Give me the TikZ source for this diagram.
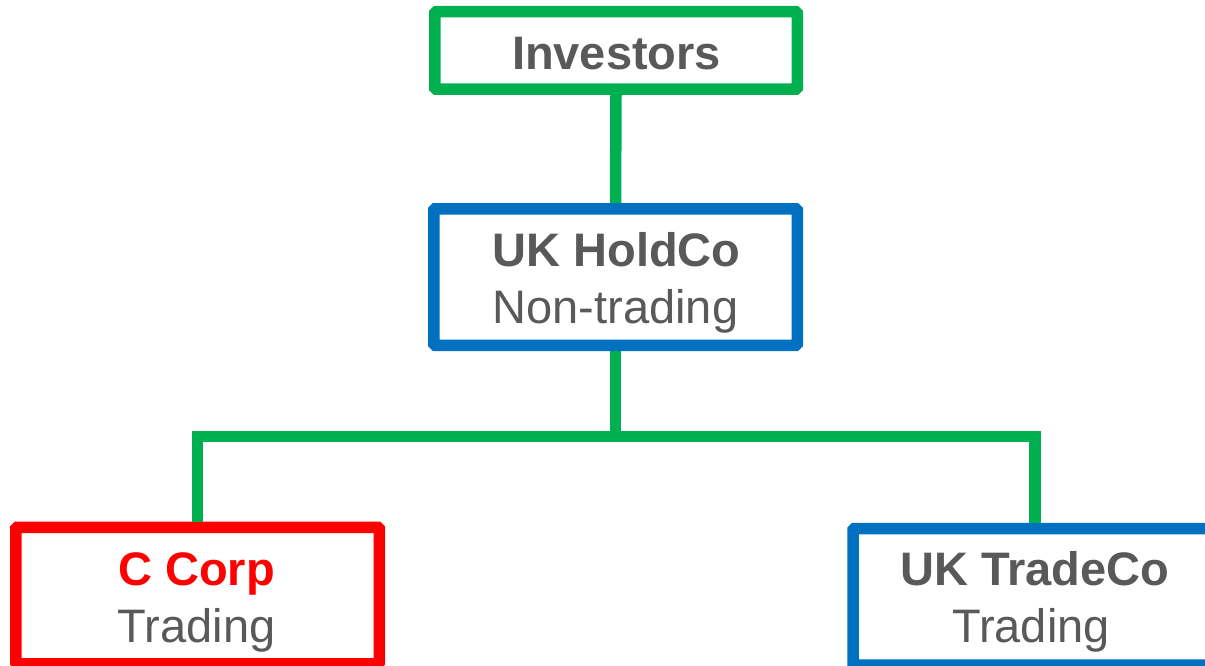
\documentclass[tikz,border=0pt]{standalone}
\usepackage{fontspec}
\setmainfont{Liberation Sans}
\definecolor{grn}{HTML}{00B050}
\definecolor{blu}{HTML}{0070C0}
\definecolor{rd}{HTML}{FF0000}
\definecolor{txtgray}{HTML}{595959}
\begin{document}
\begin{tikzpicture}[x=1pt,y=-1pt,
  box/.style={draw, line width=11.5pt, rounded corners=1.5pt, inner sep=0pt, fill=white},
  link/.style={draw=grn, line width=11.5pt},
  boldtxt/.style={font=\fontsize{47}{57}\selectfont\bfseries, text=txtgray, inner sep=0pt, anchor=base},
  plaintxt/.style={font=\fontsize{47}{57}\selectfont, text=txtgray, inner sep=0pt, anchor=base}]
\useasboundingbox (0,0) rectangle (1205,666);
\clip (0,0) rectangle (1205,666);
% boxes
\node[box, draw=grn, minimum width=362.5pt, minimum height=77.5pt] (inv) at (616,50.5) {};
\node[box, draw=blu, minimum width=363.5pt, minimum height=136.5pt] (hold) at (615.5,277) {};
\node[box, draw=rd, minimum width=363.5pt, minimum height=136.5pt] (ccorp) at (197.5,595.6) {};
\node[box, draw=blu, minimum width=363.5pt, minimum height=136.5pt] (trade) at (1034.8,596.8) {};
% connectors
\coordinate (j) at (615.5,436.5);
\draw[link] (inv.south) -- (hold.north);
\draw[link] (hold.south) -- (j);
\draw[link] (ccorp.north) |- (j) -| (trade.north);
% texts
\node[boldtxt] (invt) at (616.5,69.3) {Investors};
\node[boldtxt] (holdt) at (616.5,266) {UK HoldCo};
\node[plaintxt] (holds) at (615.5,323) {Non-trading};
\node[boldtxt, text=rd] (ccorpt) at (196.7,585.7) {C Corp};
\node[plaintxt] (ccorps) at (196.7,642.7) {Trading};
\node[boldtxt] (tradet) at (1035,585.7) {UK TradeCo};
\node[plaintxt] (trades) at (1031,642.7) {Trading};
\end{tikzpicture}
\end{document}
